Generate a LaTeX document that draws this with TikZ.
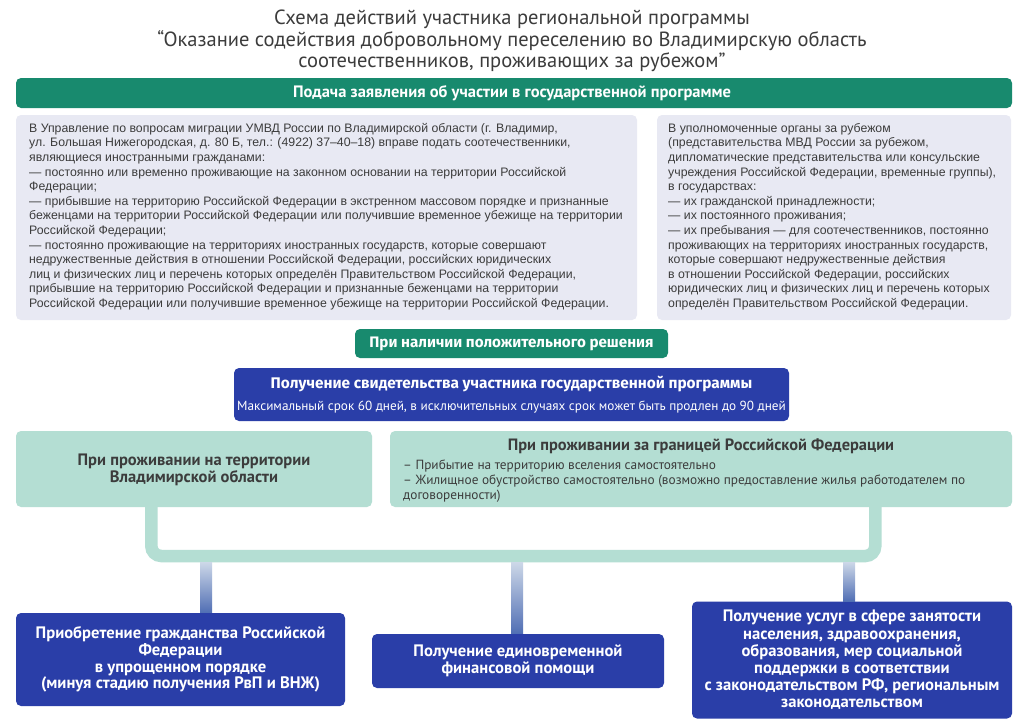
\documentclass[tikz,border=0pt]{standalone}
\usepackage{fontspec}
\usetikzlibrary{calc}
\newfontfamily\cnd{PT Sans}
\newfontfamily\bodyf{Liberation Sans}
\newfontfamily\hdf{Fira Sans}
\definecolor{tgreen}{RGB}{24,138,110}
\definecolor{tblue}{RGB}{42,62,168}
\definecolor{lgreen}{RGB}{180,222,211}
\definecolor{gbox}{RGB}{232,233,243}
\definecolor{txt}{RGB}{60,60,60}
\definecolor{ctop}{RGB}{205,216,232}
\definecolor{cbot}{RGB}{80,110,180}
\tikzset{
  box/.style={rounded corners=5pt, inner sep=0pt},
  greenbar/.style={box, fill=tgreen},
  graybox/.style={box, fill=gbox},
  bluebox/.style={box, fill=tblue},
  lgbox/.style={box, fill=lgreen},
  btxt/.style={inner sep=0pt, align=left, anchor=north west, text=txt, font=\bodyf\fontsize{12.3}{14.6}\selectfont},
  wbold/.style={inner sep=0pt, align=center, text=white, font=\cnd\bfseries\fontsize{16.6}{16.8}\selectfont},
  bracket/.style={draw=lgreen, line width=12.5pt, rounded corners=10pt},
}
\begin{document}
\begin{tikzpicture}[x=1pt,y=-1pt]
\useasboundingbox[fill=white] (0,0) rectangle (1024,724);
% title
\node[inner sep=0pt, align=center, text=txt, font=\cnd\fontsize{20.5}{21.5}\selectfont] (title) at (512,41)
{Схема действий участника региональной программы\\
“Оказание содействия добровольному переселению во Владимирскую область\\
соотечественников, проживающих за рубежом”};
% green bar
\path[greenbar] (16,78) rectangle (1012,108);
\node[wbold, font=\cnd\bfseries\fontsize{16.5}{16}\selectfont] (apply) at (512,93.5) {Подача заявления об участии в государственной программе};
% gray boxes
\path[graybox] (16,115) rectangle (637,320);
\path[graybox] (657,115) rectangle (1011,320);
\node[btxt] (lefttxt) at (29,123) {В Управление по вопросам миграции УМВД России по Владимирской области (г. Владимир,\\
ул. Большая Нижегородская, д. 80 Б, тел.: (4922) 37–40–18) вправе подать соотечественники,\\
являющиеся иностранными гражданами:\\
— постоянно или временно проживающие на законном основании на территории Российской\\
Федерации;\\
— прибывшие на территорию Российской Федерации в экстренном массовом порядке и признанные\\
беженцами на территории Российской Федерации или получившие временное убежище на территории\\
Российской Федерации;\\
— постоянно проживающие на территориях иностранных государств, которые совершают\\
недружественные действия в отношении Российской Федерации, российских юридических\\
лиц и физических лиц и перечень которых определён Правительством Российской Федерации,\\
прибывшие на территорию Российской Федерации и признанные беженцами на территории\\
Российской Федерации или получившие временное убежище на территории Российской Федерации.};
\node[btxt] (righttxt) at (668,123) {В уполномоченные органы за рубежом\\
(представительства МВД России за рубежом,\\
дипломатические представительства или консульские\\
учреждения Российской Федерации, временные группы),\\
в государствах:\\
— их гражданской принадлежности;\\
— их постоянного проживания;\\
— их пребывания — для соотечественников, постоянно\\
проживающих на территориях иностранных государств,\\
которые совершают недружественные действия\\
в отношении Российской Федерации, российских\\
юридических лиц и физических лиц и перечень которых\\
определён Правительством Российской Федерации.};
% positive decision
\path[greenbar] (355,329) rectangle (668,358);
\node[wbold, font=\hdf\bfseries\fontsize{15.2}{15}\selectfont] (pos) at (511.5,343.5) {При наличии положительного решения};
% certificate
\path[bluebox] (234,368) rectangle (789,421);
\node[wbold, font=\hdf\bfseries\fontsize{15.4}{15}\selectfont] (cert) at (511.5,384) {Получение свидетельства участника государственной программы};
\node[wbold, font=\cnd\fontsize{13.2}{14}\selectfont] (certsub) at (511.5,407) {Максимальный срок 60 дней, в исключительных случаях срок может быть продлен до 90 дней};
% light green boxes
\node[lgbox, minimum width=356pt, minimum height=76pt] (lg1) at (194,469) {};
\node[inner sep=0pt, align=center, text=txt, font=\cnd\bfseries\fontsize{16.5}{17}\selectfont] at (194,469.5) {При проживании на территории\\Владимирской области};
\node[lgbox, minimum width=622pt, minimum height=76pt] (lg2) at (701,469) {};
\node[inner sep=0pt, text=txt, font=\cnd\bfseries\fontsize{16.4}{17}\selectfont] at (701,446) {При проживании за границей Российской Федерации};
\node[inner sep=0pt, align=left, anchor=north west, text=txt, font=\cnd\fontsize{13.3}{15}\selectfont] at (403,460) {– Прибытие на территорию вселения самостоятельно\\
– Жилищное обустройство самостоятельно (возможно предоставление жилья работодателем по\\
договоренности)};
% bracket
\coordinate (bm) at (512,556);
\draw[bracket] ($(lg1.south west)+(135.5,-1)$) |- (bm) -| ($(lg2.south west)+(485.5,-1)$);
% bottom boxes
\node[bluebox, minimum width=329pt, minimum height=93pt] (b1) at (180.5,659.5) {};
\node[wbold] at (b1) {Приобретение гражданства Российской\\Федерации\\в упрощенном порядке\\(минуя стадию получения РвП и ВНЖ)};
\node[bluebox, minimum width=292pt, minimum height=54pt] (b2) at (518,661) {};
\node[wbold] at (b2) {Получение единовременной\\финансовой помощи};
\node[bluebox, minimum width=320pt, minimum height=117pt] (b3) at (852,660) {};
\node[wbold, font=\cnd\bfseries\fontsize{16.6}{17.2}\selectfont] at (b3) {Получение услуг в сфере занятости\\населения, здравоохранения,\\образования, мер социальной\\поддержки в соответствии\\с законодательством РФ, региональным\\законодательством};
% gradient connectors
\coordinate (k1) at (206,562);
\coordinate (k2) at (517,562);
\coordinate (k3) at (849,562);
\shade[top color=ctop, bottom color=cbot] ($(k1)+(-6,0)$) rectangle ($(k1 |- b1.north)+(6,0)$);
\shade[top color=ctop, bottom color=cbot] ($(k2)+(-6,0)$) rectangle ($(k2 |- b2.north)+(6,0)$);
\shade[top color=ctop, bottom color=cbot] ($(k3)+(-6,0)$) rectangle ($(k3 |- b3.north)+(6,0)$);
\end{tikzpicture}
\end{document}
